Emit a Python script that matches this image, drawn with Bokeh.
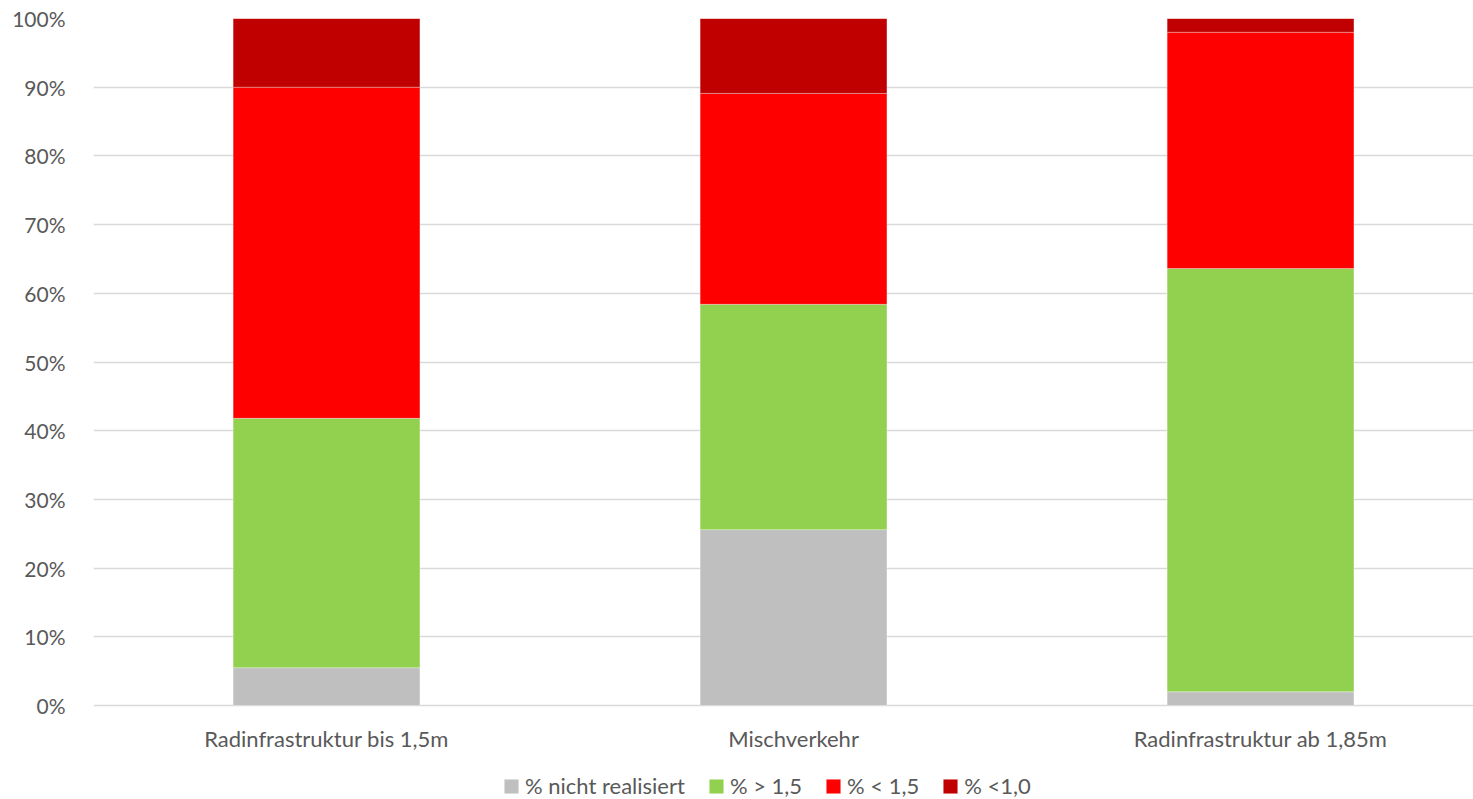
from bokeh.plotting import figure
from bokeh.models import ColumnDataSource, Range1d, FixedTicker, PrintfTickFormatter, Legend
from bokeh.core.properties import value
from bokeh.embed import file_html
from bokeh.resources import INLINE

categories = ["Radinfrastruktur bis 1,5m", "Mischverkehr", "Radinfrastruktur ab 1,85m"]
series_names = ["% nicht realisiert", "% > 1,5", "% < 1,5", "% <1,0"]
nicht_realisiert = [5.5, 25.6, 2.0]
groesser_1_5 = [36.3, 32.8, 61.6]
kleiner_1_5 = [48.2, 30.7, 34.4]
kleiner_1_0 = [10.0, 10.9, 2.0]
colors = ["#bfbfbf", "#92d050", "#ff0000", "#c00000"]

keys = ["s0", "s1", "s2", "s3"]
xs = list(range(len(categories)))
source = ColumnDataSource(data=dict(
    x=xs, s0=nicht_realisiert, s1=groesser_1_5, s2=kleiner_1_5, s3=kleiner_1_0,
))
label_source = ColumnDataSource(data=dict(x=xs, y=[0] * len(xs), text=categories))

FONT = "Lato"
TXT = "#595959"

# frame spans the full height; value 0 sits 94px above the bottom edge
p = figure(frame_width=1380, frame_height=781, output_backend="svg", toolbar_location=None,
           x_range=Range1d(-0.499, 2.456), y_range=Range1d(-13.68, 100))
p.min_border_left = 93
p.min_border_right = 0
p.min_border_top = 18
p.min_border_bottom = 0
p.outline_line_color = None

renderers = p.vbar_stack(keys, x="x", width=0.4, source=source, color=colors,
                         line_color="white", line_width=0.5, line_alpha=0.6)

p.text(x="x", y="y", text="text", source=label_source, y_offset=33,
       text_align="center", text_baseline="middle", text_font=value(FONT),
       text_font_size="22px", text_color=TXT)

p.xaxis.visible = False
p.xgrid.grid_line_color = None
p.ygrid.grid_line_color = "#d9d9d9"
p.ygrid.grid_line_width = 1.3
p.ygrid.ticker = FixedTicker(ticks=list(range(0, 101, 10)))

p.yaxis.ticker = FixedTicker(ticks=list(range(0, 101, 10)))
p.yaxis.formatter = PrintfTickFormatter(format="%d%%")
p.yaxis.axis_line_color = None
p.yaxis.major_tick_line_color = None
p.yaxis.minor_tick_line_color = None
p.yaxis.major_label_standoff = 22
p.yaxis.major_label_text_font = FONT
p.yaxis.major_label_text_font_size = "21px"
p.yaxis.major_label_text_color = TXT

legend = Legend(items=[(n, [r]) for n, r in zip(series_names, renderers)],
                orientation="horizontal", location=(409, 0),
                label_text_font=FONT, label_text_font_size="22px",
                label_text_color=TXT, glyph_width=18, glyph_height=18,
                spacing=22, label_standoff=5, padding=0, margin=0,
                border_line_color=None, background_fill_alpha=0)
p.add_layout(legend, "center")

open("out.html", "w").write(file_html(p, INLINE))
